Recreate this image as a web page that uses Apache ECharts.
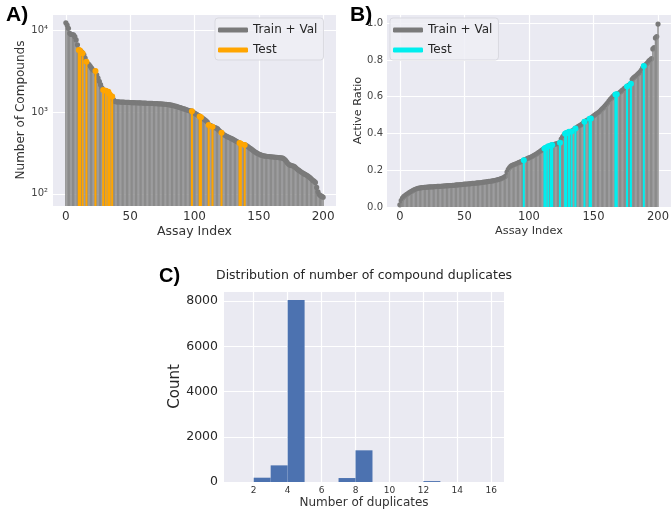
<!DOCTYPE html>
<html>
<head>
<meta charset="utf-8">
<script src="https://cdn.jsdelivr.net/npm/echarts@6/dist/echarts.min.js"></script>
<style>
  html, body { margin: 0; padding: 0; background: #fff; }
  #main { width: 672px; height: 513px; }
</style>
</head>
<body>
<div id="main"></div>
<script>
// panel A - number of compounds per assay (sorted)
var aValues = [
    12500, 11700, 10700, 9300, 9000, 8950, 8900, 8450, 7700, 6700,
    5800, 5700, 5550, 5300, 5050, 4600, 4150, 3950, 3850, 3650,
    3470, 3320, 3250, 3200, 2880, 2630, 2400, 2180, 1990, 1870,
    1860, 1840, 1810, 1780, 1660, 1600, 1560, 1430, 1360, 1345,
    1340, 1338, 1335, 1332, 1330, 1328, 1325, 1322, 1320, 1318,
    1316, 1314, 1312, 1310, 1308, 1306, 1304, 1302, 1300, 1298,
    1296, 1294, 1292, 1290, 1288, 1286, 1284, 1282, 1280, 1278,
    1276, 1273, 1270, 1268, 1265, 1262, 1258, 1254, 1250, 1245,
    1238, 1230, 1222, 1212, 1200, 1190, 1178, 1165, 1150, 1138,
    1125, 1110, 1098, 1085, 1070, 1058, 1045, 1035, 1030, 1000,
    975, 955, 935, 915, 890, 870, 850, 830, 810, 785,
    760, 700, 690, 680, 665, 655, 648, 640, 625, 600,
    580, 560, 545, 530, 518, 508, 498, 490, 482, 474,
    465, 455, 446, 438, 428, 420, 410, 405, 402, 398,
    392, 385, 375, 365, 355, 345, 336, 328, 320, 313,
    307, 302, 298, 295, 292, 290, 288, 287, 286, 285,
    284, 283, 282, 281, 280, 279, 278, 277, 276, 272,
    265, 255, 243, 232, 226, 223, 221, 219, 214, 207,
    200, 195, 190, 185, 181, 177, 173, 170, 166, 162,
    157, 152, 146, 143, 138, 120, 106, 98, 95, 93,
    91
];
var aTestIdx = [10, 11, 13, 16, 23, 29, 31, 33, 34, 36, 98, 104, 105, 111, 114, 121, 135, 136, 139];

// panel B - active ratio per assay (sorted)
var bValues = [
    0.012, 0.035, 0.048, 0.056, 0.062, 0.067, 0.072, 0.077, 0.081, 0.085,
    0.089, 0.093, 0.096, 0.099, 0.101, 0.103, 0.104, 0.105, 0.106, 0.107,
    0.107, 0.108, 0.108, 0.109, 0.109, 0.110, 0.110, 0.111, 0.111, 0.112,
    0.112, 0.113, 0.113, 0.114, 0.114, 0.115, 0.115, 0.116, 0.116, 0.117,
    0.117, 0.118, 0.118, 0.119, 0.120, 0.120, 0.121, 0.122, 0.122, 0.123,
    0.124, 0.124, 0.125, 0.126, 0.126, 0.127, 0.128, 0.128, 0.129, 0.130,
    0.131, 0.131, 0.132, 0.133, 0.134, 0.135, 0.136, 0.137, 0.138, 0.139,
    0.140, 0.141, 0.142, 0.144, 0.145, 0.147, 0.149, 0.151, 0.153, 0.156,
    0.159, 0.163, 0.168, 0.190, 0.205, 0.215, 0.222, 0.226, 0.229, 0.232,
    0.235, 0.238, 0.241, 0.244, 0.247, 0.250, 0.255, 0.258, 0.261, 0.264,
    0.267, 0.270, 0.273, 0.277, 0.281, 0.285, 0.289, 0.294, 0.299, 0.304,
    0.309, 0.313, 0.318, 0.323, 0.327, 0.330, 0.332, 0.335, 0.337, 0.339,
    0.341, 0.343, 0.345, 0.347, 0.349, 0.370, 0.380, 0.390, 0.398, 0.403,
    0.406, 0.409, 0.410, 0.411, 0.415, 0.421, 0.427, 0.432, 0.437, 0.441,
    0.445, 0.450, 0.457, 0.464, 0.468, 0.472, 0.476, 0.480, 0.482, 0.489,
    0.495, 0.500, 0.505, 0.510, 0.515, 0.521, 0.528, 0.535, 0.542, 0.550,
    0.558, 0.567, 0.576, 0.585, 0.592, 0.600, 0.607, 0.612, 0.614, 0.617,
    0.621, 0.627, 0.633, 0.639, 0.645, 0.650, 0.655, 0.660, 0.666, 0.671,
    0.695, 0.702, 0.708, 0.714, 0.720, 0.727, 0.734, 0.744, 0.755, 0.767,
    0.772, 0.778, 0.785, 0.795, 0.801, 0.807, 0.860, 0.867, 0.920, 0.927,
    0.995
];
var bTestIdx = [96, 112, 113, 115, 117, 118, 124, 128, 129, 131, 133, 136, 143, 147, 148, 167, 168, 176, 179, 189];

// panel C - histogram of duplicates
var binEdges = [1, 2, 3, 4, 5, 6, 7, 8, 9, 10, 11, 12, 13, 14, 15, 16];
var dupCounts = [0, 190, 735, 8040, 0, 0, 175, 1400, 0, 0, 0, 40, 0, 0, 0];

var assayTicks = [0, 50, 100, 150, 200];
var dupTicks = [2, 4, 6, 8, 10, 12, 14, 16];

var font = 'DejaVu Sans';
var grey = '#8b8b8b';
var greyTop = '#7a7a7a';

function allPoints(vals) {
    return vals.map(function (v, i) { return [i, v]; });
}
function somePoints(vals, idx) {
    return idx.map(function (i) { return [i, vals[i]]; });
}

// vertical stem + round marker, drawn down to the bottom of the grid
function stem(fill, mark, w, r) {
    return function (params, api) {
        var p = api.coord([api.value(0), api.value(1)]);
        var bottom = params.coordSys.y + params.coordSys.height;
        return {
            type: 'group',
            children: [
                { type: 'rect', shape: { x: p[0] - w / 2, y: p[1], width: w, height: bottom - p[1] }, style: { fill: fill } },
                { type: 'circle', shape: { cx: p[0], cy: p[1], r: r }, style: { fill: mark } }
            ]
        };
    };
}

var sup = '⁰¹²³⁴⁵⁶⁷⁸⁹';

function legendCfg(left) {
    return {
        left: left, top: 18,
        orient: 'vertical',
        icon: 'roundRect',
        itemWidth: 30, itemHeight: 5,
        itemGap: 8, itemTextGap: 8,
        padding: [6, 6, 4, 3],
        selectedMode: false,
        backgroundColor: 'rgba(238,238,245,0.85)',
        borderColor: '#d9d9e0', borderWidth: 1, borderRadius: 3,
        textStyle: { fontFamily: font, fontSize: 12, color: '#262626' },
        formatter: function (name) { return name.split('|')[0]; }
    };
}

var gridBg = { show: true, backgroundColor: '#eaeaf2', borderWidth: 0 };
var split = { show: true, lineStyle: { color: '#ffffff', width: 1.2 } };
var noLine = { show: false };

var dom = document.getElementById('main');
var myChart = echarts.init(dom, null, { renderer: 'canvas' });

var option = {
    animation: false,
    backgroundColor: '#ffffff',
    textStyle: { fontFamily: font },
    title: [
        { text: 'A)', left: 1, top: 0, textStyle: { fontFamily: 'Liberation Sans', fontWeight: 'bold', fontSize: 21, color: '#000' } },
        { text: 'B)', left: 345, top: 0, textStyle: { fontFamily: 'Liberation Sans', fontWeight: 'bold', fontSize: 21, color: '#000' } },
        { text: 'C)', left: 154, top: 261, textStyle: { fontFamily: 'Liberation Sans', fontWeight: 'bold', fontSize: 20, color: '#000' } },
        { text: 'Distribution of number of compound duplicates', left: 211, top: 264, textStyle: { fontFamily: font, fontWeight: 'normal', fontSize: 12.5, color: '#262626' } }
    ],
    legend: [
        Object.assign(legendCfg(215), { data: ['Train + Val|A', 'Test|A'] }),
        Object.assign(legendCfg(390), { data: ['Train + Val|B', 'Test|B'] })
    ],
    grid: [
        Object.assign({ left: 53, top: 14, width: 283, height: 192 }, gridBg),
        Object.assign({ left: 387, top: 14, width: 284, height: 193 }, gridBg),
        Object.assign({ left: 224, top: 291, width: 280, height: 191 }, gridBg)
    ],
    xAxis: [
        {
            gridIndex: 0, type: 'value', min: -10, max: 210,
            name: 'Assay Index', nameLocation: 'middle', nameGap: 19,
            nameTextStyle: { fontSize: 12.5, color: '#333' },
            axisLine: noLine, axisTick: { show: false, customValues: assayTicks },
            axisLabel: { customValues: assayTicks, fontSize: 12, color: '#333', margin: 5 },
            splitLine: split
        },
        {
            gridIndex: 1, type: 'value', min: -10, max: 210,
            name: 'Assay Index', nameLocation: 'middle', nameGap: 19,
            nameTextStyle: { fontSize: 11.3, color: '#333' },
            axisLine: noLine, axisTick: { show: false, customValues: assayTicks },
            axisLabel: { customValues: assayTicks, fontSize: 11.5, color: '#333', margin: 4 },
            splitLine: split
        },
        {
            gridIndex: 2, type: 'value', min: 0.25, max: 16.75,
            name: 'Number of duplicates', nameLocation: 'middle', nameGap: 15,
            nameTextStyle: { fontSize: 12, color: '#333' },
            axisLine: noLine, axisTick: { show: false, customValues: dupTicks },
            axisLabel: { customValues: dupTicks, fontSize: 9, color: '#333', margin: 4 },
            splitLine: split
        }
    ],
    yAxis: [
        {
            gridIndex: 0, type: 'log', logBase: 10, min: 71, max: 16000,
            name: 'Number of Compounds', nameLocation: 'middle', nameGap: 25,
            nameTextStyle: { fontSize: 12, color: '#333' },
            axisLine: noLine, axisTick: noLine,
            axisLabel: {
                fontSize: 10, color: '#444', margin: 5,
                showMinLabel: false, showMaxLabel: false,
                formatter: function (v) {
                    var e = Math.round(Math.log10(v));
                    if (Math.abs(Math.log10(v) - e) > 0.01) return '';
                    return '10' + String(e).split('').map(function (d) { return sup[+d]; }).join('');
                }
            },
            splitLine: split
        },
        {
            gridIndex: 1, type: 'value', min: 0, max: 1.05, interval: 0.2,
            name: 'Active Ratio', nameLocation: 'middle', nameGap: 22,
            nameTextStyle: { fontSize: 11.3, color: '#333' },
            axisLine: noLine, axisTick: noLine,
            axisLabel: {
                fontSize: 10, color: '#444', margin: 4, showMaxLabel: false,
                formatter: function (v) { return v.toFixed(1); }
            },
            splitLine: split
        },
        {
            gridIndex: 2, type: 'value', min: 0, max: 8442, interval: 2000,
            name: 'Count', nameLocation: 'middle', nameGap: 40,
            nameTextStyle: { fontSize: 15, color: '#262626' },
            axisLine: noLine, axisTick: noLine,
            axisLabel: {
                fontSize: 12.5, color: '#262626', margin: 6, showMaxLabel: false,
                formatter: function (v) { return String(v); }
            },
            splitLine: split
        }
    ],
    series: [
        {
            name: 'Train + Val|A', type: 'custom',
            xAxisIndex: 0, yAxisIndex: 0,
            itemStyle: { color: greyTop },
            renderItem: stem(grey, greyTop, 1.4, 2.6),
            encode: { x: 0, y: 1 },
            data: allPoints(aValues)
        },
        {
            name: 'Test|A', type: 'custom',
            xAxisIndex: 0, yAxisIndex: 0,
            itemStyle: { color: '#ffa500' },
            renderItem: stem('#ffa500', '#ffa500', 2, 3),
            encode: { x: 0, y: 1 },
            data: somePoints(aValues, aTestIdx)
        },
        {
            name: 'Train + Val|B', type: 'custom',
            xAxisIndex: 1, yAxisIndex: 1,
            itemStyle: { color: greyTop },
            renderItem: stem(grey, greyTop, 1.4, 2.6),
            encode: { x: 0, y: 1 },
            data: allPoints(bValues)
        },
        {
            name: 'Test|B', type: 'custom',
            xAxisIndex: 1, yAxisIndex: 1,
            itemStyle: { color: '#00eeee' },
            renderItem: stem('#00eeee', '#00eeee', 2, 3),
            encode: { x: 0, y: 1 },
            data: somePoints(bValues, bTestIdx)
        },
        {
            name: 'dups', type: 'custom',
            xAxisIndex: 2, yAxisIndex: 2,
            renderItem: function (params, api) {
                if (!api.value(2)) return null;
                var p0 = api.coord([api.value(0), api.value(2)]);
                var p1 = api.coord([api.value(1), 0]);
                return {
                    type: 'rect',
                    shape: { x: p0[0], y: p0[1], width: p1[0] - p0[0], height: p1[1] - p0[1] },
                    style: { fill: '#4c72b0' }
                };
            },
            encode: { x: [0, 1], y: 2 },
            data: dupCounts.map(function (c, k) { return [binEdges[k], binEdges[k + 1], c]; })
        }
    ]
};

if (option && typeof option === 'object') {
    myChart.setOption(option, true);
}
</script>
</body>
</html>
